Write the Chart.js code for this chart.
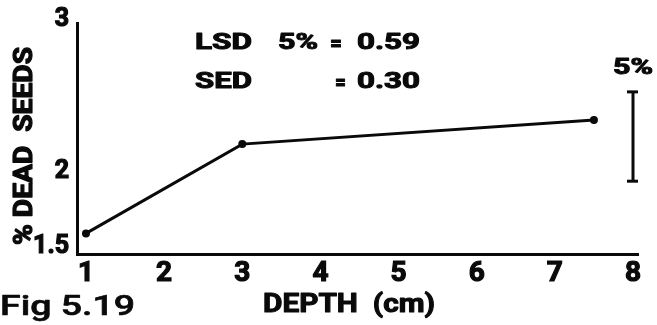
<!DOCTYPE html>
<html>
<head>
<meta charset="utf-8">
<script src="https://cdn.jsdelivr.net/npm/chart.js@4.4.1/dist/chart.umd.min.js"></script>
<style>
  html, body { margin: 0; padding: 0; background: #fff; }
  #wrap { width: 657px; height: 325px; position: relative; }
</style>
</head>
<body>
<div id="wrap"><canvas id="c" width="657" height="325"></canvas></div>
<script>
// Depth of burial (cm) and percentage of dead seeds
const depths = [1, 3, 7.5];
const deadSeeds = [1.59, 2.18, 2.34];

// Axis tick labels
const xTicks = [1, 2, 3, 4, 5, 6, 7, 8];
const yTicks = [1.5, 2, 3];

// Statistics shown in the figure
const lsdValue = 0.59;
const sedValue = 0.30;
const lsdBarDepth = 8;
const lsdBarCentre = 2.23;

const INK = '#0a0a0a';
const FONT = 'Roboto, "Liberation Sans", sans-serif';

// Draw a string squeezed/stretched to a given width, with a thin outline for weight
function fitText(ctx, text, left, cy, width, font, stroke) {
  ctx.save();
  ctx.font = font;
  const w = ctx.measureText(text).width;
  ctx.translate(left, cy);
  ctx.scale(width / w, 1);
  ctx.textAlign = 'left';
  ctx.textBaseline = 'middle';
  ctx.fillStyle = INK;
  ctx.fillText(text, 0, 0);
  if (stroke) {
    ctx.strokeStyle = INK;
    ctx.lineWidth = stroke;
    ctx.lineJoin = 'round';
    ctx.strokeText(text, 0, 0);
  }
  ctx.restore();
}

const labelsPlugin = {
  id: 'figureLabels',
  afterDraw(chart) {
    const ctx = chart.ctx;
    const B = 'bold 22px ' + FONT;
    fitText(ctx, 'LSD', 195, 43, 57, B, 1);
    fitText(ctx, '5%', 278, 43, 40, B, 1);
    fitText(ctx, '=', 330, 44, 12, B, 1);
    fitText(ctx, lsdValue.toFixed(2), 357, 43, 63, B, 1);
    fitText(ctx, 'SED', 195, 82, 57, B, 1);
    fitText(ctx, '=', 335, 83, 11, B, 1);
    fitText(ctx, sedValue.toFixed(2), 357, 82, 63, B, 1);
    fitText(ctx, '5%', 613, 68, 40, B, 1);

    // vertical axis title
    ctx.save();
    ctx.translate(26, 245);
    ctx.rotate(-Math.PI / 2);
    fitText(ctx, '% DEAD  SEEDS', 0, 0, 198, 'bold 25px ' + FONT, 1.2);
    ctx.restore();

    fitText(ctx, 'DEPTH  (cm)', 263, 306, 172, 'bold 25px ' + FONT, 1);
    fitText(ctx, 'Fig 5.19', 0, 308, 135, '500 28px ' + FONT, 0.6);
  }
};

const tickFont = size => ({ family: FONT, size: size, weight: 'bold' });

new Chart(document.getElementById('c'), {
  type: 'scatter',
  data: {
    datasets: [
      {
        data: depths.map((d, i) => ({ x: d, y: deadSeeds[i] })),
        showLine: true,
        borderColor: INK,
        backgroundColor: INK,
        borderWidth: 3,
        pointRadius: 4,
        pointBorderWidth: 0,
        pointBackgroundColor: INK,
        tension: 0
      },
      {
        // LSD (5%) bar
        data: [
          { x: lsdBarDepth, y: lsdBarCentre - lsdValue / 2 },
          { x: lsdBarDepth, y: lsdBarCentre + lsdValue / 2 }
        ],
        showLine: true,
        borderColor: INK,
        borderWidth: 3,
        pointStyle: 'line',
        pointRadius: 6,
        pointBorderWidth: 3,
        pointBorderColor: INK
      }
    ]
  },
  options: {
    responsive: false,
    animation: false,
    devicePixelRatio: 1,
    layout: { padding: { top: 20, right: 19, bottom: 0, left: 0 } },
    plugins: { legend: { display: false }, tooltip: { enabled: false } },
    scales: {
      x: {
        type: 'linear',
        min: 0.885,
        max: 8.064,
        afterBuildTicks: s => { s.ticks = xTicks.map(v => ({ value: v })); },
        afterFit: s => { s.height = 71; },
        grid: { display: false, drawTicks: false },
        border: { display: true, color: INK, width: 3 },
        ticks: {
          autoSkip: false,
          maxRotation: 0,
          color: INK,
          padding: 3,
          textStrokeColor: INK,
          textStrokeWidth: 1.2,
          font: tickFont(28)
        }
      },
      y: {
        type: 'linear',
        min: 1.454,
        max: 2.98,
        afterBuildTicks: s => { s.ticks = yTicks.map(v => ({ value: v })); },
        afterFit: s => { s.width = 77; },
        grid: { display: false, drawTicks: false },
        border: { display: true, color: INK, width: 3 },
        ticks: {
          autoSkip: false,
          color: INK,
          padding: 8,
          textStrokeColor: INK,
          textStrokeWidth: 1.2,
          font: tickFont(25),
          callback: v => String(v)
        }
      }
    }
  },
  plugins: [labelsPlugin]
});
</script>
</body>
</html>
